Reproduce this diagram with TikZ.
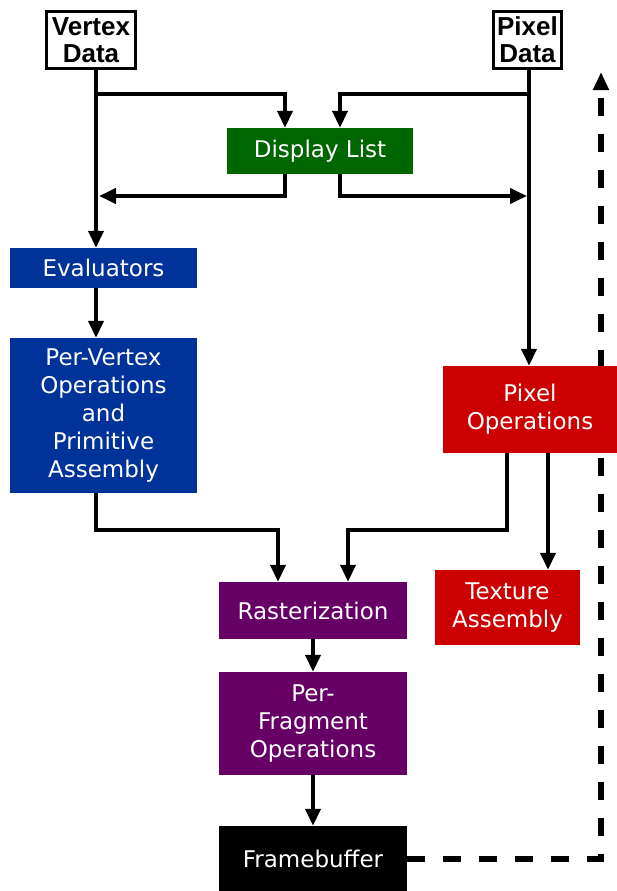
\documentclass[tikz,border=0pt]{standalone}
\usepackage{fontspec}
\setmainfont{DejaVu Sans}
\newfontfamily\datafont{Liberation Sans}
\usetikzlibrary{arrows.meta,positioning,calc,backgrounds}

\definecolor{listgreen}{HTML}{006600}
\definecolor{vertexblue}{HTML}{003399}
\definecolor{pixelred}{HTML}{CC0000}
\definecolor{fragpurple}{HTML}{660066}

\tikzset{
    stage/.style={fill=#1, text=white, inner sep=0pt, align=center, font=\fontsize{23}{28}\selectfont},
    databox/.style={draw, line width=3pt, fill=white, inner sep=0pt, align=center, font=\datafont\bfseries\fontsize{26}{27}\selectfont},
    flow/.style={line width=4pt, -{Triangle[width=15pt,length=17pt]}},
    feedback/.style={line width=6pt, dash pattern=on 18pt off 18pt, -{Triangle[width=15pt,length=18pt]}}
}

\begin{document}
\begin{tikzpicture}[x=1pt,y=-1pt]
        \useasboundingbox (0,0) rectangle (617,891);

        % Inputs
        \node[databox, minimum width=89, minimum height=57] (vertexdata) at (91,40) {Vertex\\Data};
        \node[databox, minimum width=68, minimum height=57] (pixeldata) at (527.5,40) {Pixel\\Data};

        % Stages
        \node[stage=listgreen, minimum width=186, minimum height=46] (displaylist) at (320,151) {Display List};
        \node[stage=vertexblue, minimum width=187, minimum height=40] (evaluators) at (103.5,268) {Evaluators};
        \node[stage=vertexblue, minimum width=187, minimum height=155] (pervertex) at (103.5,415.5) {Per-Vertex\\Operations\\and\\Primitive\\Assembly};
        \node[stage=pixelred, minimum width=174, minimum height=87] (pixelops) at (530,409.5) {Pixel\\Operations};
        \node[stage=pixelred, minimum width=145, minimum height=75] (texture) at (507.5,607.5) {Texture\\Assembly};
        \node[stage=fragpurple, minimum width=188, minimum height=57] (raster) at (313,610.5) {Rasterization};
        \node[stage=fragpurple, minimum width=188, minimum height=103] (perfragment) at (313,723.5) {Per-\\Fragment\\Operations};
        \node[stage=black, minimum width=188, minimum height=65] (framebuffer) at (313,858.5) {Framebuffer};

        % Guide columns and joints
        \coordinate (vx) at (96,0);
        \coordinate (px) at (529,0);
        \coordinate (rastin) at (0,530);
        \coordinate (vjoin) at (96,94);
        \coordinate (pjoin) at (529,94);
        \coordinate (vback) at (99,196);
        \coordinate (pback) at (527,196);
        \coordinate (fbtop) at (601,72);

        % Vertex path
        \draw[flow] (vertexdata.south -| vx) -- (evaluators.north -| vx);
        \draw[flow] (vjoin) -| ($(displaylist.north)+(-35,0)$);
        \draw[flow] ($(displaylist.south)+(-35,0)$) |- (vback);
        \draw[flow] (evaluators.south -| vx) -- (pervertex.north -| vx);
        \draw[flow] (pervertex.south -| vx) |- ($(rastin)+(278,0)$) -- ($(raster.north)+(-35,0)$);

        % Pixel path
        \draw[flow] (pixeldata.south -| px) -- (pixelops.north -| px);
        \draw[flow] (pjoin) -| ($(displaylist.north)+(20,0)$);
        \draw[flow] ($(displaylist.south)+(20,0)$) |- (pback);
        \draw[flow] ($(pixelops.south)+(-23,0)$) |- ($(rastin)+(348,0)$) -- ($(raster.north)+(35,0)$);
        \draw[flow] ($(pixelops.south)+(18,0)$) -- ($(texture.north)+(40.5,0)$);

        % Fragment path
        \draw[flow] (raster) -- (perfragment);
        \draw[flow] (perfragment) -- (framebuffer);

        % Readback (behind Pixel Operations)
        \begin{scope}[on background layer]
            \draw[feedback] (framebuffer.east) -| (fbtop);
        \end{scope}

    \end{tikzpicture}
\end{document}
